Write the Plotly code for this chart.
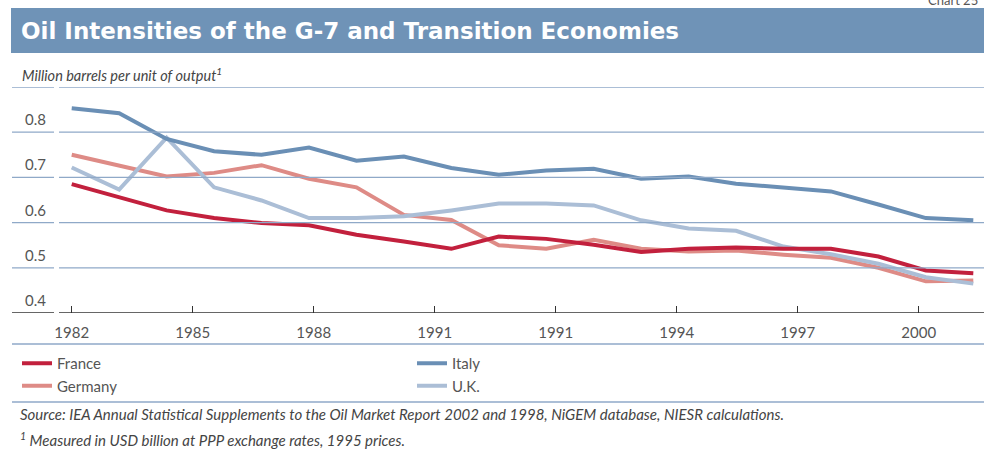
import plotly.graph_objects as go

# ---------------- data ----------------
years = list(range(1982, 2002))
france = [0.685, 0.656, 0.627, 0.610, 0.599, 0.594, 0.573, 0.558, 0.542, 0.569,
          0.564, 0.551, 0.535, 0.542, 0.545, 0.542, 0.542, 0.525, 0.494, 0.488]
germany = [0.750, 0.726, 0.702, 0.710, 0.727, 0.697, 0.678, 0.617, 0.606, 0.550,
           0.542, 0.562, 0.542, 0.536, 0.538, 0.529, 0.522, 0.500, 0.470, 0.472]
italy = [0.853, 0.842, 0.785, 0.758, 0.750, 0.766, 0.737, 0.746, 0.721, 0.706,
         0.715, 0.719, 0.697, 0.702, 0.686, 0.677, 0.669, 0.640, 0.610, 0.605]
uk = [0.722, 0.673, 0.788, 0.678, 0.649, 0.610, 0.610, 0.614, 0.627, 0.642,
      0.642, 0.638, 0.605, 0.587, 0.582, 0.547, 0.530, 0.509, 0.479, 0.465]

tick_labels = ["1982", "1985", "1988", "1991", "1991", "1994", "1997", "2000"]
y_ticks = [0.4, 0.5, 0.6, 0.7, 0.8]
grid_vals = [0.5, 0.6, 0.7, 0.8, 0.9]

title_text = "Oil Intensities of the G-7 and Transition Economies"
y_title = "Million barrels per unit of output<sup>1</sup>"
source_text = ("Source: IEA Annual Statistical Supplements to the Oil Market Report 2002 "
               "and 1998, NiGEM database, NIESR calculations.")
note_text = "<sup>1</sup> Measured in USD billion at PPP exchange rates, 1995 prices."

# ---------------- style ----------------
C_FRANCE = "#c2203d"
C_GERMANY = "#de8b86"
C_ITALY = "#6a8fb5"
C_UK = "#abbed6"
C_BAR = "#6f93b7"
C_GRID = "#8fa9c8"
C_TEXT = "#555555"
FONT = "Lato"

W, H = 984, 450
ML, MR, MT, MB = 59, 0, 87, 137
PW = W - ML - MR
PH = H - MT - MB


def px_x(x):
    return (x - ML) / PW


def px_y(y):
    return (H - MB - y) / PH


fig = go.Figure()

series = [("Germany", germany, C_GERMANY, 3),
          ("U.K.", uk, C_UK, 4),
          ("Italy", italy, C_ITALY, 2),
          ("France", france, C_FRANCE, 1)]
for name, vals, col, rank in series:
    fig.add_trace(go.Scatter(x=years, y=vals, mode="lines", name=name,
                             line=dict(color=col, width=4), legendrank=rank))

tick_pos = [years[0] + 2.55 * k for k in range(len(tick_labels))]

shapes = []
for v in grid_vals:
    for x0, x1 in [(px_x(12), px_x(54)), (0, 1)]:
        shapes.append(dict(type="line", xref="paper", yref="y", x0=x0, x1=x1,
                           y0=v, y1=v, line=dict(color=C_GRID, width=1.3)))
for x0, x1 in [(px_x(12), px_x(54)), (0, 1)]:
    shapes.append(dict(type="line", xref="paper", yref="y", x0=x0, x1=x1,
                       y0=0.4, y1=0.4, line=dict(color="#333333", width=1.3)))
shapes.append(dict(type="rect", xref="paper", yref="paper", x0=px_x(11), x1=1.0,
                   y0=px_y(53), y1=px_y(8), fillcolor=C_BAR, line=dict(width=0),
                   layer="below"))
for yy in [344, 402]:
    shapes.append(dict(type="line", xref="paper", yref="paper", x0=px_x(12), x1=1,
                       y0=px_y(yy), y1=px_y(yy), line=dict(color=C_GRID, width=1.5)))

annotations = []
for v in y_ticks:
    annotations.append(dict(xref="paper", yref="y", x=px_x(23), y=v, xanchor="left",
                            yanchor="middle", yshift=13, showarrow=False,
                            text=f"{v:.1f}", font=dict(family=FONT, size=15, color=C_TEXT)))
annotations.append(dict(xref="paper", yref="paper", x=px_x(20), y=px_y(74), xanchor="left",
                        yanchor="middle", showarrow=False, text=y_title,
                        font=dict(family=FONT, size=14.5, color="#444444", style="italic")))
annotations.append(dict(xref="paper", yref="paper", x=px_x(19), y=px_y(31), xanchor="left",
                        yanchor="middle", showarrow=False, text=title_text,
                        font=dict(family="DejaVu Sans", size=23, color="white", weight="bold")))
annotations.append(dict(xref="paper", yref="paper", x=px_x(926), y=px_y(0), xanchor="left",
                        yanchor="middle", showarrow=False, text="Chart 25",
                        font=dict(family=FONT, size=13, color=C_TEXT)))
annotations.append(dict(xref="paper", yref="paper", x=px_x(18), y=px_y(414), xanchor="left",
                        yanchor="middle", showarrow=False, text=source_text,
                        font=dict(family=FONT, size=15, color="#444444", style="italic")))
annotations.append(dict(xref="paper", yref="paper", x=px_x(18), y=px_y(439), xanchor="left",
                        yanchor="middle", showarrow=False, text=note_text,
                        font=dict(family=FONT, size=15, color="#444444", style="italic")))

fig.update_layout(
    width=W, height=H,
    margin=dict(l=ML, r=MR, t=MT, b=MB),
    paper_bgcolor="white", plot_bgcolor="white",
    shapes=shapes, annotations=annotations,
    showlegend=True,
    legend=dict(orientation="h", x=px_x(17), y=px_y(347), xanchor="left", yanchor="top",
                entrywidth=350, entrywidthmode="pixels",
                font=dict(family=FONT, size=15, color=C_TEXT), bgcolor="rgba(0,0,0,0)",
                itemwidth=30),
    xaxis=dict(range=[1981.732, 2001.2255], tickvals=tick_pos, ticktext=tick_labels,
               ticks="inside", ticklen=7, tickcolor="#333333", tickwidth=1,
               ticklabelstandoff=9,
               showgrid=False, zeroline=False, showline=False,
               tickfont=dict(family=FONT, size=15, color=C_TEXT), fixedrange=True),
    yaxis=dict(range=[0.4, 0.9], showgrid=False, zeroline=False, showline=False,
               showticklabels=False, ticks="", fixedrange=True),
)

fig.write_html("out.html", config={"displayModeBar": False},
               post_script="document.body.style.margin='0px';")
